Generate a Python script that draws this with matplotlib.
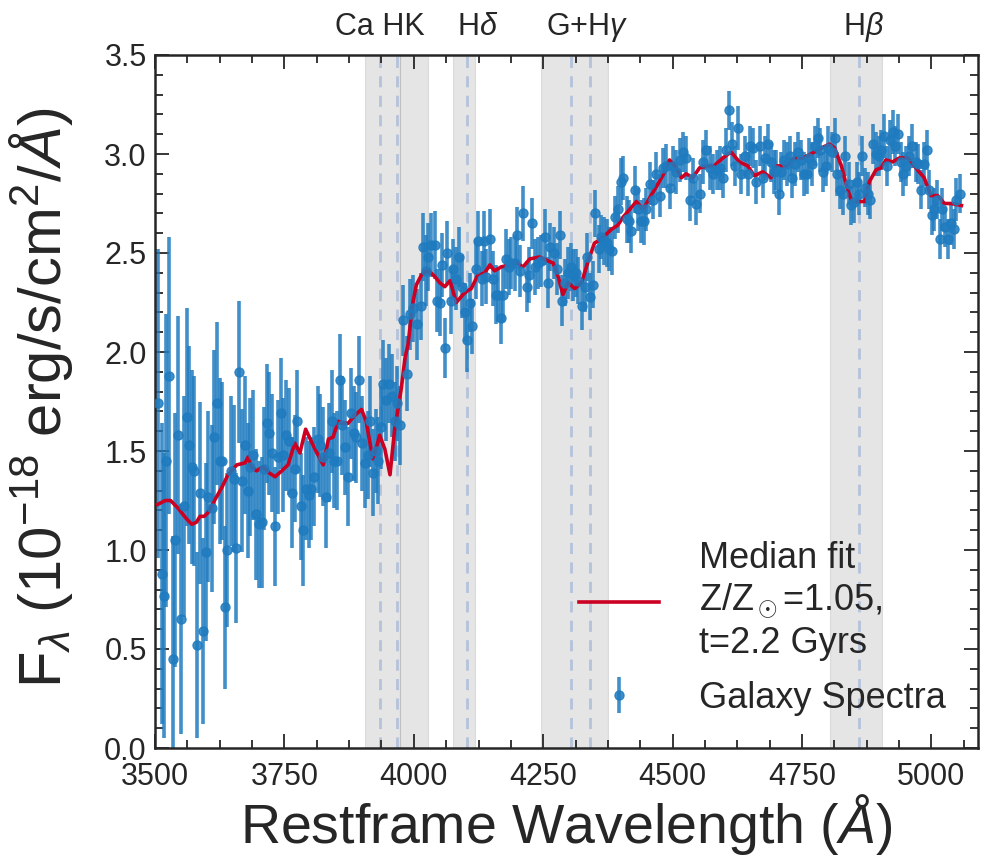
import numpy as np
import matplotlib
matplotlib.use("Agg")
import matplotlib.pyplot as plt
from matplotlib.ticker import MultipleLocator, AutoMinorLocator

# ---------------- data ----------------
wave = [3506, 3513, 3517, 3522, 3527, 3534, 3539, 3545, 3550, 3556, 3561, 3566, 3571, 3576, 3582,
        3587, 3592, 3598, 3603, 3610, 3614, 3619, 3625, 3630, 3636, 3640, 3647, 3653, 3657, 3662,
        3669, 3674, 3679, 3683, 3690, 3695, 3700, 3706, 3711, 3716, 3721, 3726, 3732, 3738,
        3743, 3748, 3754, 3759, 3764, 3770, 3775, 3782, 3786, 3791, 3797, 3802, 3807, 3814, 3818,
        3825, 3830, 3836, 3841, 3846, 3851, 3857, 3862, 3867, 3872, 3878, 3884, 3888, 3894, 3900,
        3905, 3911, 3915, 3921, 3926, 3931, 3936, 3941, 3947, 3952, 3958, 3963, 3968, 3974,
        3979, 3986, 3992, 3999, 4007, 4014, 4018, 4023, 4028, 4033, 4040, 4044, 4050, 4055, 4060,
        4065, 4071, 4076, 4082, 4087, 4093, 4098, 4103, 4108, 4113, 4120, 4124, 4131, 4136, 4140,
        4147, 4153, 4158, 4163, 4168, 4173, 4179, 4184, 4188, 4195, 4200,
        4205, 4211, 4218, 4222, 4228, 4234, 4239, 4245, 4253, 4259, 4264, 4271, 4276, 4282, 4287,
        4292, 4297, 4303, 4307, 4314, 4318, 4324, 4330, 4335, 4341, 4346, 4351, 4357, 4362, 4367,
        4373, 4378, 4383, 4389, 4394, 4400, 4404, 4411, 4416, 4420, 4427,
        4433, 4438, 4444, 4449, 4456, 4462, 4468, 4475, 4481, 4487, 4494, 4501, 4507, 4514, 4520,
        4526, 4533, 4539, 4546, 4552, 4559, 4565, 4572, 4578, 4585, 4591, 4597, 4604, 4609, 4615,
        4620, 4627, 4632, 4639, 4645, 4650, 4656, 4662, 4668,
        4675, 4679, 4684, 4690, 4695, 4700, 4705, 4710, 4716, 4721, 4726, 4731, 4737, 4743, 4748,
        4753, 4759, 4764, 4769, 4775, 4780, 4785, 4791, 4796, 4801, 4807, 4813, 4818, 4824, 4829,
        4834, 4840, 4845, 4850, 4856, 4861, 4866, 4872, 4877, 4882,
        4888, 4893, 4898, 4903, 4908, 4915, 4920, 4925, 4930, 4935, 4941, 4946, 4951, 4957, 4963,
        4970, 4975, 4980, 4985, 4991, 4996, 5001, 5005, 5011, 5017, 5021, 5027, 5033, 5038, 5044,
        5048, 5055]

flux = [1.74, 0.88, 0.77, 1.45, 1.88, 0.45, 1.05, 1.58, 0.65, 1.22, 1.67, 1.53, 1.42, 1.40, 0.52,
        1.29, 0.59, 0.99, 1.27, 1.21, 1.57, 1.74, 1.45, 1.45, 0.71, 1.00, 1.40, 1.36, 1.01, 1.90,
        1.35, 1.53, 1.30, 1.42, 1.48, 1.18, 1.13, 1.14, 1.41, 1.64, 1.59, 1.49, 1.12, 1.47,
        1.69, 1.48, 1.58, 1.55, 1.29, 1.41, 1.65, 1.22, 1.10, 1.31, 1.28, 1.31, 1.37, 1.56, 1.53,
        1.47, 1.27, 1.49, 1.65, 1.45, 1.45, 1.86, 1.63, 1.52, 1.37, 1.69, 1.59, 1.57, 1.86, 1.54,
        1.44, 1.48, 1.65, 1.39, 1.50, 1.45, 1.62, 1.84, 1.76, 1.84, 1.78, 1.65, 1.74, 1.63,
        2.16, 1.89, 2.19, 2.22, 2.14, 2.23, 2.53, 2.41, 2.48, 2.54, 2.54, 2.26, 2.25, 2.44, 2.02,
        2.50, 2.26, 2.42, 2.37, 2.48, 2.33, 2.20, 2.06, 2.25, 2.13, 2.42, 2.56, 2.37, 2.56, 2.38,
        2.57, 2.37, 2.29, 2.29, 2.17, 2.29, 2.47, 2.43, 2.45, 2.45, 2.59,
        2.41, 2.70, 2.33, 2.39, 2.65, 2.43, 2.45, 2.46, 2.58, 2.35, 2.53, 2.50, 2.42, 2.59, 2.26,
        2.35, 2.40, 2.43, 2.39, 2.40, 2.36, 2.23, 2.33, 2.48, 2.28, 2.34, 2.70, 2.52, 2.58, 2.56,
        2.55, 2.52, 2.51, 2.68, 2.72, 2.86, 2.88, 2.67, 2.66, 2.61, 2.82,
        2.72, 2.66, 2.66, 2.72, 2.85, 2.77, 2.90, 2.79, 2.93, 2.94, 2.83, 2.94, 2.91, 2.97, 3.01,
        2.98, 2.77, 2.88, 2.75, 2.80, 2.96, 3.02, 2.93, 2.90, 2.92, 2.93, 2.88, 3.02, 3.22, 3.05,
        2.94, 3.13, 2.90, 2.99, 2.90, 3.04, 3.03, 2.86, 3.04,
        2.88, 2.98, 3.05, 2.96, 2.91, 2.92, 2.80, 2.91, 2.97, 2.95, 2.99, 2.88, 2.95, 3.01, 2.97,
        2.90, 2.90, 2.98, 2.95, 3.04, 3.08, 3.02, 2.91, 2.94, 3.03, 3.01, 3.08, 2.90, 2.82, 2.80,
        2.99, 2.85, 2.74, 2.76, 2.86, 2.80, 2.99, 2.83, 2.80, 2.77,
        3.05, 3.00, 2.99, 3.02, 3.09, 2.94, 3.07, 3.11, 3.04, 3.10, 2.96, 2.90, 2.94, 2.99, 3.04,
        2.96, 2.95, 2.82, 2.95, 3.02, 2.82, 2.69, 2.72, 2.77, 2.57, 2.72, 2.63, 2.57, 2.65, 2.62,
        2.77, 2.80]

flux_err = [0.78, 0.76, 0.72, 0.74, 0.70, 0.62, 0.64, 0.60, 0.58, 0.56, 0.55, 0.50, 0.49, 0.48, 0.47,
            0.46, 0.47, 0.45, 0.43, 0.42, 0.44, 0.41, 0.42, 0.40, 0.41, 0.39, 0.38, 0.37, 0.38, 0.36,
            0.36, 0.35, 0.34, 0.35, 0.33, 0.33, 0.32, 0.33, 0.31, 0.30, 0.31, 0.30, 0.30, 0.29,
            0.28, 0.29, 0.28, 0.27, 0.28, 0.27, 0.26, 0.27, 0.28, 0.26, 0.27, 0.26, 0.25, 0.27, 0.26,
            0.25, 0.26, 0.25, 0.26, 0.24, 0.25, 0.23, 0.25, 0.24, 0.25, 0.23, 0.24, 0.23, 0.22, 0.24,
            0.23, 0.22, 0.23, 0.22, 0.21, 0.22, 0.21, 0.22, 0.21, 0.20, 0.21, 0.20, 0.19, 0.20,
            0.18, 0.19, 0.18, 0.17, 0.18, 0.17, 0.17, 0.18, 0.17, 0.16, 0.17, 0.16, 0.17, 0.16, 0.15,
            0.16, 0.17, 0.15, 0.16, 0.15, 0.16, 0.15, 0.16, 0.15, 0.14, 0.15, 0.15, 0.14, 0.15, 0.14,
            0.15, 0.14, 0.15, 0.14, 0.13, 0.14, 0.15, 0.14, 0.13, 0.14, 0.14,
            0.13, 0.14, 0.13, 0.14, 0.13, 0.14, 0.13, 0.13, 0.14, 0.13, 0.12, 0.13, 0.13, 0.12, 0.13,
            0.12, 0.13, 0.12, 0.13, 0.12, 0.12, 0.12, 0.13, 0.12, 0.12, 0.12, 0.12, 0.12, 0.11, 0.12,
            0.12, 0.11, 0.12, 0.11, 0.12, 0.12, 0.11, 0.12, 0.11, 0.11, 0.12,
            0.11, 0.11, 0.12, 0.11, 0.11, 0.10, 0.11, 0.11, 0.10, 0.11, 0.11, 0.10, 0.11, 0.11, 0.10,
            0.11, 0.11, 0.10, 0.11, 0.10, 0.11, 0.10, 0.11, 0.10, 0.10, 0.11, 0.10, 0.11, 0.10, 0.11,
            0.10, 0.11, 0.10, 0.10, 0.11, 0.10, 0.10, 0.11, 0.10,
            0.10, 0.11, 0.10, 0.10, 0.11, 0.10, 0.11, 0.10, 0.10, 0.11, 0.10, 0.10, 0.11, 0.10, 0.10,
            0.11, 0.10, 0.10, 0.11, 0.10, 0.10, 0.11, 0.10, 0.10, 0.11, 0.10, 0.10, 0.11, 0.10, 0.11,
            0.10, 0.11, 0.10, 0.11, 0.10, 0.11, 0.10, 0.10, 0.11, 0.10,
            0.10, 0.11, 0.10, 0.10, 0.11, 0.10, 0.10, 0.11, 0.10, 0.10, 0.10, 0.11, 0.10, 0.10, 0.11,
            0.10, 0.10, 0.10, 0.11, 0.10, 0.10, 0.10, 0.11, 0.10, 0.10, 0.11, 0.10, 0.10, 0.11, 0.10,
            0.11, 0.10]

model_wave = [3505, 3520, 3530, 3545, 3560, 3571, 3580, 3587, 3595, 3603, 3615, 3630, 3641, 3658,
              3674, 3680, 3686, 3696, 3709, 3720, 3732, 3745, 3757, 3770, 3780, 3791, 3800, 3809,
              3817, 3825, 3835, 3844, 3854, 3863, 3873, 3886, 3899, 3908, 3914, 3921, 3928, 3934,
              3944, 3954, 3963, 3970, 3976, 3983, 3989, 3995, 3999, 4005, 4015, 4025, 4033, 4041,
              4050, 4060, 4070, 4082, 4095, 4104, 4111, 4124, 4137, 4147, 4156, 4169, 4185, 4198,
              4211, 4224, 4243, 4259, 4269, 4279, 4288, 4298, 4311, 4324, 4337, 4349, 4362, 4382,
              4394, 4404, 4417, 4430, 4443, 4456, 4472, 4485, 4494, 4504, 4517, 4526, 4539, 4552,
              4568, 4580, 4597, 4613, 4629, 4645, 4658, 4674, 4690, 4700, 4719, 4735, 4752, 4767,
              4787, 4803, 4813, 4826, 4838, 4848, 4858, 4871, 4880, 4893, 4903, 4912, 4925, 4938,
              4954, 4961, 4973, 4986, 4999, 5012, 5025, 5038, 5058]
model_flux = [1.23, 1.25, 1.25, 1.21, 1.16, 1.13, 1.14, 1.17, 1.17, 1.19, 1.25, 1.32, 1.38, 1.43,
              1.44, 1.47, 1.42, 1.40, 1.42, 1.39, 1.37, 1.40, 1.43, 1.54, 1.49, 1.61, 1.56, 1.51,
              1.47, 1.43, 1.56, 1.57, 1.65, 1.64, 1.64, 1.68, 1.71, 1.65, 1.56, 1.46, 1.52, 1.58,
              1.51, 1.38, 1.61, 1.72, 1.82, 1.97, 2.04, 2.18, 2.26, 2.34, 2.39, 2.41, 2.40, 2.38,
              2.35, 2.33, 2.36, 2.25, 2.29, 2.31, 2.32, 2.39, 2.40, 2.44, 2.41, 2.43, 2.44, 2.45,
              2.43, 2.47, 2.48, 2.46, 2.45, 2.38, 2.29, 2.35, 2.32, 2.35, 2.46, 2.55, 2.57, 2.62,
              2.64, 2.68, 2.72, 2.76, 2.72, 2.78, 2.85, 2.91, 2.97, 2.94, 2.88, 2.90, 2.88, 2.93,
              2.94, 2.94, 2.98, 3.01, 2.96, 2.94, 2.89, 2.91, 2.88, 2.94, 2.94, 2.98, 2.98, 3.00,
              3.03, 3.05, 3.03, 2.94, 2.82, 2.75, 2.76, 2.76, 2.86, 2.92, 2.93, 2.97, 2.96, 2.98,
              2.98, 2.96, 2.92, 2.88, 2.79, 2.79, 2.75, 2.75, 2.74]

# spectral features: label, line positions, shaded windows, label position
feature_labels = ["Ca HK", r"H$\delta$", r"G+H$\gamma$", r"H$\beta$"]
feature_label_x = [3934, 4124, 4334, 4868]
feature_lines = [3934, 3968, 4102, 4304, 4340, 4861]
feature_bands = [(3905, 3973), (3973, 4028), (4075, 4118), (4245, 4375), (4805, 4905)]

model_label = "Median fit\nZ/Z$_\\odot$=1.05,\nt=2.2 Gyrs"
data_label = "Galaxy Spectra"

# ---------------- style ----------------
plt.rcParams['font.family'] = ['Liberation Sans', 'DejaVu Sans']
plt.rcParams['mathtext.fontset'] = 'custom'
plt.rcParams['mathtext.rm'] = 'Liberation Sans'
plt.rcParams['mathtext.it'] = 'Liberation Sans:italic'
plt.rcParams['mathtext.bf'] = 'Liberation Sans:bold'
text_color = '#262626'
plt.rcParams['text.color'] = text_color
plt.rcParams['axes.labelcolor'] = text_color
plt.rcParams['xtick.color'] = text_color
plt.rcParams['ytick.color'] = text_color

fig = plt.figure(figsize=(9.92, 8.67), dpi=100)
ax = fig.add_axes([155 / 992, 1 - 748 / 867, (978 - 155) / 992, (748 - 55) / 867])

for (a, b) in feature_bands:
    ax.axvspan(a, b, color='gray', alpha=0.2, lw=0.8, zorder=0)
for lx in feature_lines:
    ax.axvline(lx, color='#b4c2da', lw=2, ls=(0, (4, 3)), zorder=0.5)

line_model, = ax.plot(model_wave, model_flux, color='#cc0022', lw=2.6, zorder=3,
                      label=model_label)
eb = ax.errorbar(wave, flux, yerr=flux_err, fmt='o', color='#1f7bbf', ms=6.5,
                 elinewidth=2.6, capsize=0, alpha=0.85, label=data_label)
eb.lines[0].set_zorder(4)
for c in eb.lines[2]:
    c.set_zorder(2)

ax.set_xlim(3500, 5090)
ax.set_ylim(0, 3.5)
ax.xaxis.set_major_locator(MultipleLocator(250))
ax.xaxis.set_minor_locator(AutoMinorLocator(4))
ax.yaxis.set_major_locator(MultipleLocator(0.5))
ax.yaxis.set_minor_locator(AutoMinorLocator(5))
ax.tick_params(which='both', direction='in', top=True, right=True, width=1.3, labelsize=22)
ax.tick_params(which='major', length=10)
ax.tick_params(which='minor', length=5.5)
ax.tick_params(axis='x', pad=10)
ax.tick_params(axis='y', pad=6)
for s in ax.spines.values():
    s.set_linewidth(1.8)
    s.set_color(text_color)

ax.set_xlabel(r"Restframe Wavelength ($\AA$)", fontsize=40, labelpad=0)
ax.set_ylabel(r"F$_\lambda$ (10$^{-18}$ erg/s/cm$^2$/$\AA$)", fontsize=43)
ax.yaxis.set_label_coords(-0.097, 0.505)

for lab, lx in zip(feature_labels, feature_label_x):
    ax.text(lx, 1.04, lab, transform=ax.get_xaxis_transform(), ha='center', va='center',
            fontsize=22)

leg = ax.legend(handles=[line_model, eb], loc='lower right', frameon=False, fontsize=26,
                handlelength=2.2, handletextpad=1.1, labelspacing=0.55,
                bbox_to_anchor=(1.0, 0.0))

fig.savefig("out.png", dpi=100)
